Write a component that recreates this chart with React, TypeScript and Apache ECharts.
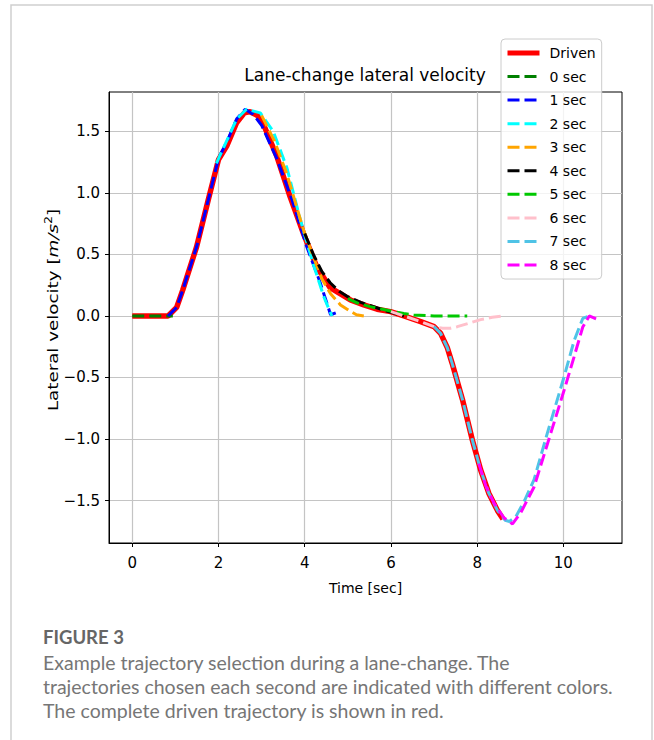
import React, { useEffect, useRef } from "react";
import * as echarts from "echarts";

const xTicks = [0, 2, 4, 6, 8, 10];
const yTicks = [-1.5, -1, -0.5, 0, 0.5, 1, 1.5];

const seriesNames = ["Driven", "0 sec", "1 sec", "2 sec", "3 sec", "4 sec", "5 sec", "6 sec", "7 sec", "8 sec"];
const seriesColors = ["#ff0000", "#008000", "#0000ff", "#00ffff", "#ffa500", "#000000", "#00c800", "#ffc0cb", "#4fc3e6", "#ff00ff"];

const driven = [
  [0, 0], [0.83, 0], [1.03, 0.07], [1.17, 0.21], [1.49, 0.56], [1.76, 0.94], [2.0, 1.27], [2.19, 1.38],
  [2.42, 1.57], [2.6, 1.65], [2.73, 1.66], [2.9, 1.63], [3.04, 1.56], [3.35, 1.3], [3.66, 0.97], [3.97, 0.67],
  [4.28, 0.4], [4.59, 0.23], [5.06, 0.13], [5.37, 0.09], [5.68, 0.055], [5.99, 0.035], [6.3, 0.0],
  [6.69, -0.046], [7.0, -0.087], [7.15, -0.14], [7.31, -0.26], [7.42, -0.385], [7.66, -0.68], [7.89, -1.01],
  [8.08, -1.25], [8.27, -1.44], [8.47, -1.58], [8.6, -1.65],
];
const sec0 = [[0, 0], [0.94, 0]];
const sec1 = [
  [0.83, 0], [1.03, 0.07], [1.17, 0.21], [1.49, 0.56], [1.76, 0.94], [2.0, 1.28], [2.2, 1.42], [2.42, 1.6],
  [2.62, 1.68], [2.8, 1.64], [3.0, 1.55], [3.35, 1.28], [3.7, 0.95], [4.05, 0.56], [4.36, 0.27], [4.6, 0.01], [4.79, 0.035],
];
const sec2 = [
  [1.95, 1.24], [2.2, 1.43], [2.42, 1.6], [2.65, 1.68], [2.97, 1.65], [3.27, 1.5], [3.59, 1.2], [3.9, 0.78],
  [4.2, 0.42], [4.45, 0.15], [4.63, 0.0],
];
const sec3 = [
  [3.0, 1.63], [3.3, 1.42], [3.59, 1.15], [3.97, 0.7], [4.2, 0.48], [4.4, 0.3], [4.6, 0.18], [4.83, 0.09],
  [5.05, 0.04], [5.2, 0.01], [5.37, 0.0],
];
const sec4 = [
  [4.0, 0.67], [4.2, 0.5], [4.4, 0.36], [4.59, 0.27], [4.8, 0.2], [4.98, 0.16], [5.3, 0.11], [5.6, 0.075],
  [5.9, 0.04], [6.3, 0.0],
];
const sec5 = [
  [5.0, 0.14], [5.26, 0.1], [5.52, 0.076], [5.99, 0.04], [6.3, 0.02], [6.53, 0.008], [7.0, 0.0], [7.77, 0.0],
];
const sec6 = [
  [6.0, 0.035], [6.3, 0.0], [6.69, -0.046], [7.0, -0.087], [7.2, -0.1], [7.38, -0.1], [7.54, -0.087],
  [7.8, -0.06], [8.08, -0.03], [8.35, -0.01], [8.6, 0.0],
];
const sec7 = [
  [7.0, -0.087], [7.15, -0.14], [7.31, -0.26], [7.42, -0.385], [7.66, -0.68], [7.89, -1.01], [8.08, -1.25],
  [8.27, -1.44], [8.47, -1.58], [8.65, -1.66], [8.75, -1.67], [8.9, -1.63], [9.1, -1.5], [9.32, -1.33],
  [9.63, -0.95], [10.02, -0.49], [10.25, -0.2], [10.45, -0.02], [10.56, -0.005],
];
const sec8 = [
  [8.04, -1.2], [8.2, -1.38], [8.39, -1.52], [8.62, -1.64], [8.82, -1.69], [9.01, -1.6], [9.32, -1.39],
  [9.63, -1.04], [10.02, -0.6], [10.25, -0.33], [10.45, -0.09], [10.6, 0.0], [10.8, -0.03],
];
const seriesData = [driven, sec0, sec1, sec2, sec3, sec4, sec5, sec6, sec7, sec8];

const titleText = "Lane-change lateral velocity";
const xName = "Time [sec]";
const captionHead = "FIGURE 3";
const captionLines = [
  "Example trajectory selection during a lane-change. The",
  "trajectories chosen each second are indicated with different colors.",
  "The complete driven trajectory is shown in red.",
];

const FONT = "DejaVu Sans";
const DASH = [12, 5];

export default function App() {
  const ref = useRef<HTMLDivElement>(null);
  useEffect(() => {
    document.body.style.margin = "0";
    const chart = echarts.init(ref.current!, null, { renderer: "svg" });
    const fmtY = (v: number) => (v < 0 ? "\u2212" : "") + Math.abs(v).toFixed(1);
    const series = seriesNames.map((name, i) => ({
      name,
      type: "line",
      data: seriesData[i],
      showSymbol: false,
      symbol: "none",
      smooth: false,
      lineStyle: {
        color: seriesColors[i],
        width: i === 0 ? 5.5 : 3,
        type: i === 0 ? "solid" : DASH,
        cap: "butt",
      },
      itemStyle: { color: seriesColors[i] },
      emphasis: { disabled: true },
    }));
    chart.setOption({
      animation: false,
      backgroundColor: "#ffffff",
      grid: {
        left: 109, right: 32, top: 92, bottom: 197,
        show: true, borderColor: "#000", borderWidth: 1, backgroundColor: "transparent",
      },
      xAxis: {
        type: "value", min: -0.54, max: 11.36,
        name: xName, nameLocation: "middle", nameGap: 38,
        nameTextStyle: { fontFamily: FONT, fontSize: 14, color: "#000" },
        axisLine: { show: true, onZero: false, lineStyle: { color: "#000", width: 1 } },
        axisTick: { show: true, inside: false, length: 4, customValues: xTicks, lineStyle: { color: "#000", width: 1 } },
        axisLabel: { customValues: xTicks, margin: 12, fontFamily: FONT, fontSize: 15, color: "#000", formatter: (v: number) => String(v) },
        splitLine: { show: true, lineStyle: { color: "#c4c4c4", width: 1.2 } },
      },
      yAxis: {
        type: "value", min: -1.845, max: 1.82,
        axisLine: { show: true, onZero: false, lineStyle: { color: "#000", width: 1 } },
        axisTick: { show: true, inside: false, length: 4, customValues: yTicks, lineStyle: { color: "#000", width: 1 } },
        axisLabel: { customValues: yTicks, margin: 9, fontFamily: FONT, fontSize: 15, color: "#000", formatter: fmtY },
        splitLine: { show: true, lineStyle: { color: "#c4c4c4", width: 1.2 } },
      },
      legend: {
        orient: "vertical", left: 501, top: 39,
        padding: [7, 6, 7, 4],
        itemWidth: 32, itemHeight: 16, itemGap: 9.56,
        backgroundColor: "rgba(255,255,255,0.8)",
        borderColor: "#cccccc", borderWidth: 1, borderRadius: 4,
        textStyle: { fontFamily: FONT, fontSize: 14, color: "#000", padding: [0, 0, 0, 5] },
        selectedMode: false,
        data: seriesNames.map((name, i) => ({
          name,
          itemStyle: { opacity: 0, color: "transparent", borderWidth: 0 },
          lineStyle: { width: i === 0 ? 5 : 3, type: i === 0 ? "solid" : DASH, color: seriesColors[i], opacity: 1 },
        })),
      },
      graphic: [
        { type: "rect", shape: { x: 11, y: 5, width: 641, height: 760 }, style: { fill: "none", stroke: "#cfcfcf", lineWidth: 1.5 }, silent: true },
        { type: "text", x: 365, y: 75, style: { text: titleText, fontFamily: FONT, fontSize: 17, fill: "#000", align: "center", verticalAlign: "middle" } },
        {
          type: "text", x: 52, y: 310, rotation: Math.PI / 2, scaleX: 1.26, scaleY: 1,
          style: {
            text: "{a|Lateral velocity [}{i|m/s}{s|2}{a|]}",
            fontFamily: FONT, fontSize: 14.5, fill: "#000",
            align: "center", verticalAlign: "middle",
            rich: {
              a: { fontFamily: FONT, fontSize: 14.5, fill: "#000", lineHeight: 18, verticalAlign: "bottom" },
              i: { fontFamily: FONT, fontSize: 14.5, fontStyle: "italic", fill: "#000", lineHeight: 18, verticalAlign: "bottom" },
              s: { fontFamily: FONT, fontSize: 10, fill: "#000", lineHeight: 10, verticalAlign: "top" },
            },
          },
        },
        { type: "text", x: 43, y: 637, style: { text: captionHead, fontFamily: "Lato", fontSize: 18.5, fontWeight: "bold", fill: "#666666", verticalAlign: "middle" } },
        ...captionLines.map((t, i) => ({
          type: "text", x: 43, y: 662 + i * 24,
          style: { text: t, fontFamily: "Lato", fontSize: 19.5, fill: "#767676", verticalAlign: "middle" },
        })),
      ],
      series,
    });
    return () => chart.dispose();
  }, []);
  return <div ref={ref} style={{ width: 654, height: 740 }} />;
}
